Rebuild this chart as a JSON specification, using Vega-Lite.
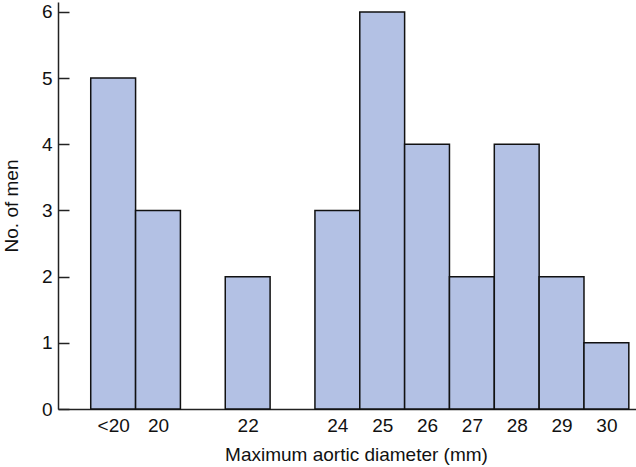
{
  "$schema": "https://vega.github.io/schema/vega-lite/v6.json",
  "width": 578,
  "height": 407,
  "autosize": {"type": "none"},
  "padding": {"left": 58, "top": 2, "right": 0, "bottom": 58},
  "background": "white",
  "config": {
    "view": {"stroke": null},
    "font": "Liberation Sans",
    "axis": {"grid": false, "domainColor": "#222", "tickColor": "#222", "labelColor": "#111", "titleColor": "#111", "labelFont": "Liberation Sans", "titleFont": "Liberation Sans", "titleFontWeight": "normal"}
  },
  "data": {
    "values": [
      {"diameter": "<20", "from": 18.5, "to": 19.5, "men": 5},
      {"diameter": "20", "from": 19.5, "to": 20.5, "men": 3},
      {"diameter": "22", "from": 21.5, "to": 22.5, "men": 2},
      {"diameter": "24", "from": 23.5, "to": 24.5, "men": 3},
      {"diameter": "25", "from": 24.5, "to": 25.5, "men": 6},
      {"diameter": "26", "from": 25.5, "to": 26.5, "men": 4},
      {"diameter": "27", "from": 26.5, "to": 27.5, "men": 2},
      {"diameter": "28", "from": 27.5, "to": 28.5, "men": 4},
      {"diameter": "29", "from": 28.5, "to": 29.5, "men": 2},
      {"diameter": "30", "from": 29.5, "to": 30.5, "men": 1}
    ]
  },
  "mark": {"type": "bar", "fill": "#b3c1e4", "stroke": "#111", "strokeWidth": 1.5},
  "encoding": {
    "x": {
      "field": "from",
      "type": "quantitative",
      "scale": {"domain": [17.77, 30.66], "nice": false, "zero": false},
      "axis": {
        "title": "Maximum aortic diameter (mm)",
        "titleFontSize": 19,
        "titlePadding": 10,
        "titleX": 298,
        "values": [19, 20, 22, 24, 25, 26, 27, 28, 29, 30],
        "labelExpr": "datum.value == 19 ? '<20' : datum.label",
        "ticks": false,
        "labelPadding": 7,
        "labelFontSize": 19,
        "domainWidth": 1.5
      }
    },
    "x2": {"field": "to"},
    "y": {
      "field": "men",
      "type": "quantitative",
      "scale": {"domain": [0, 6.15], "nice": false},
      "axis": {
        "title": "No. of men",
        "titleFontSize": 19,
        "titlePadding": 20,
        "values": [0, 1, 2, 3, 4, 5, 6],
        "tickSize": -11,
        "tickWidth": 1.5,
        "labelPadding": 17,
        "labelFontSize": 19,
        "domainWidth": 1.5
      }
    },
    "y2": {"datum": 0}
  }
}
